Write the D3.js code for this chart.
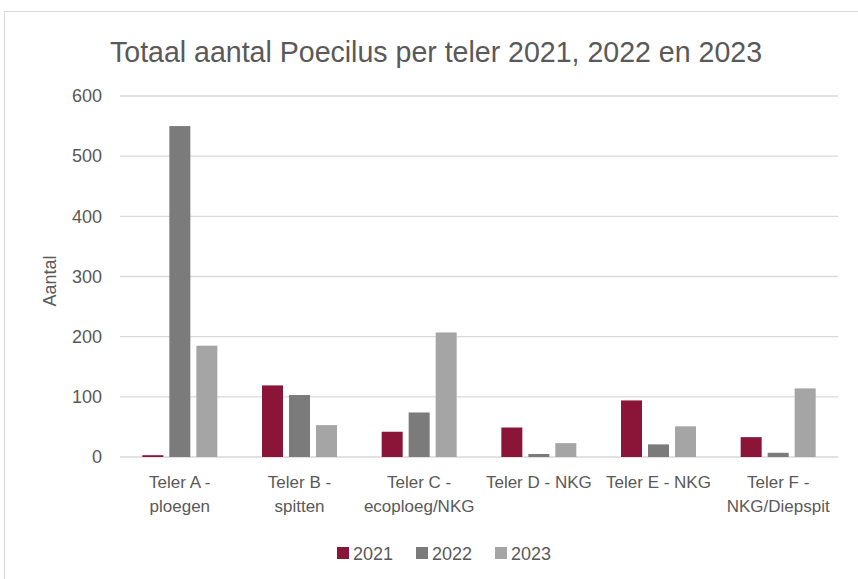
<!DOCTYPE html>
<html>
<head>
<meta charset="utf-8">
<script src="https://cdn.jsdelivr.net/npm/d3@7"></script>
<style>
  body { margin: 0; background: #fff; }
  svg { font-family: "Liberation Sans", Arial, sans-serif; }
</style>
</head>
<body>
<div id="chart"></div>
<script>
const categories = ["Teler A - ploegen", "Teler B - spitten", "Teler C - ecoploeg/NKG", "Teler D - NKG", "Teler E - NKG", "Teler F - NKG/Diepspit"];
const years = ["2021", "2022", "2023"];
const values2021 = [3, 119, 42, 49, 94, 33];
const values2022 = [550, 103, 74, 5, 21, 7];
const values2023 = [185, 53, 207, 23, 51, 114];
const yTicks = [0, 100, 200, 300, 400, 500, 600];
const colors = ["#8a1538", "#7b7b7b", "#a5a5a5"];

const series = [values2021, values2022, values2023];
const dataset = categories.map((c, i) => ({ cat: c, vals: years.map((y, j) => ({ year: y, value: series[j][i] })) }));

const W = 858, H = 579;
const margin = { top: 96, right: 20, bottom: 122, left: 120 },
      width = 838 - margin.left,
      height = 457 - margin.top;

const svg = d3.select("#chart").append("svg")
  .attr("width", W).attr("height", H);

// outer chart frame
svg.append("rect")
  .attr("x", 4.5).attr("y", 11.5)
  .attr("width", 900).attr("height", 620)
  .attr("fill", "none").attr("stroke", "#d9d9d9");

svg.append("text")
  .attr("x", 110).attr("y", 62)
  .attr("textLength", 652)
  .attr("lengthAdjust", "spacingAndGlyphs")
  .style("font-size", "29px")
  .style("fill", "#595959")
  .text("Totaal aantal Poecilus per teler 2021, 2022 en 2023");

const g = svg.append("g").attr("transform", `translate(${margin.left},${margin.top})`);

const x = d3.scaleBand().domain(categories).range([0, width]).padding(0);
const xInner = d3.scaleBand().domain(years).range([-37.5, 37.5]).paddingInner(0.222);
const y = d3.scaleLinear().domain([0, 600]).range([height, 0]);

// gridlines
g.append("g")
  .selectAll("line")
  .data(yTicks)
  .enter().append("line")
  .attr("x1", 0).attr("x2", width)
  .attr("y1", d => y(d)).attr("y2", d => y(d))
  .attr("stroke", "#d9d9d9")
  .attr("stroke-width", 1.3);

// y axis labels
g.append("g")
  .call(d3.axisLeft(y).tickValues(yTicks).tickSize(0).tickPadding(18))
  .call(a => a.select(".domain").remove())
  .selectAll("text")
  .style("font-size", "18px")
  .style("fill", "#595959")
  .style("font-family", "inherit");

// bars
const groups = g.append("g")
  .selectAll("g")
  .data(dataset)
  .enter().append("g")
  .attr("transform", d => `translate(${x(d.cat) + x.bandwidth() / 2},0)`);

groups.selectAll("rect")
  .data(d => d.vals)
  .enter().append("rect")
  .attr("x", d => xInner(d.year))
  .attr("y", d => y(d.value))
  .attr("width", xInner.bandwidth())
  .attr("height", d => height - y(d.value))
  .attr("fill", (d, i) => colors[i]);

// x labels, wrapped after the dash
const xl = g.append("g").attr("transform", `translate(0,${height})`);
xl.selectAll("text")
  .data(categories)
  .enter().append("text")
  .attr("x", d => x(d) + x.bandwidth() / 2)
  .attr("y", 31)
  .attr("text-anchor", "middle")
  .style("font-size", "17px")
  .style("fill", "#595959")
  .each(function(d) {
    const lines = d.length > 14 ? [d.slice(0, d.indexOf("- ") + 1), d.slice(d.indexOf("- ") + 2)] : [d];
    d3.select(this).selectAll("tspan")
      .data(lines)
      .enter().append("tspan")
      .attr("x", x(d) + x.bandwidth() / 2)
      .attr("dy", (l, i) => i === 0 ? 0 : 24)
      .text(l => l);
  });

// y axis title
svg.append("text")
  .attr("transform", `translate(56,281) rotate(-90)`)
  .attr("text-anchor", "middle")
  .style("font-size", "18px")
  .style("fill", "#595959")
  .text("Aantal");

// legend
const legendX = [337, 416, 495];
const legend = svg.append("g")
  .selectAll("g")
  .data(years)
  .enter().append("g")
  .attr("transform", (d, i) => `translate(${legendX[i]},547)`);
legend.append("rect")
  .attr("width", 12).attr("height", 12)
  .attr("fill", (d, i) => colors[i]);
legend.append("text")
  .attr("x", 16).attr("y", 12.5)
  .style("font-size", "18px")
  .style("fill", "#595959")
  .text(d => d);
</script>
</body>
</html>
